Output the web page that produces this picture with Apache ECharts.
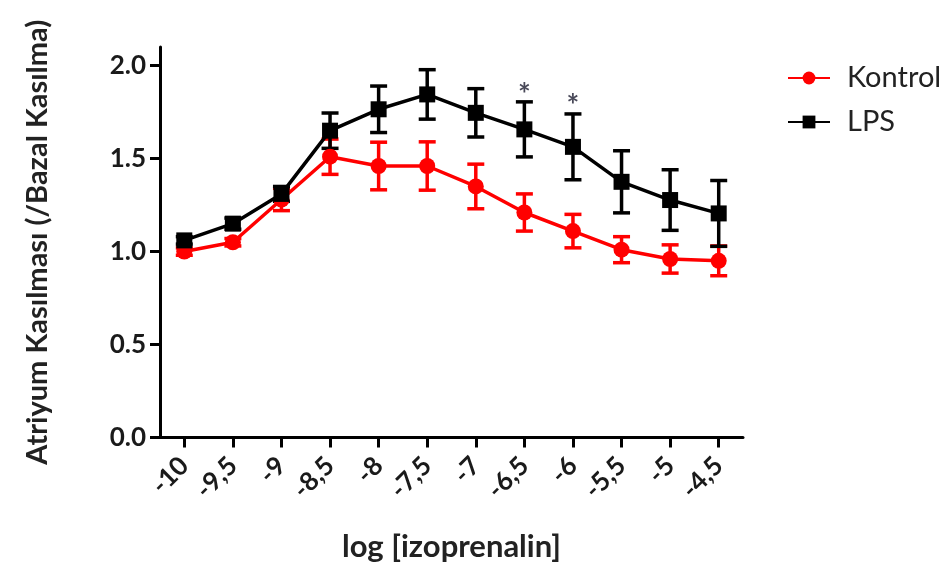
<!DOCTYPE html>
<html>
<head>
<meta charset="utf-8">
<script src="https://cdn.jsdelivr.net/npm/echarts@6/dist/echarts.min.js"></script>
<style>html,body{margin:0;padding:0;background:#fff}#c{width:951px;height:568px}</style>
</head>
<body>
<div id="c"></div>
<script>
const xValues = [-10, -9.5, -9, -8.5, -8, -7.5, -7, -6.5, -6, -5.5, -5, -4.5];
const kontrolMean = [1.00, 1.05, 1.28, 1.51, 1.46, 1.46, 1.35, 1.21, 1.11, 1.01, 0.96, 0.95];
const kontrolSem  = [0.02, 0.02, 0.06, 0.095, 0.128, 0.13, 0.12, 0.10, 0.09, 0.07, 0.076, 0.08];
const lpsMean = [1.06, 1.15, 1.31, 1.65, 1.765, 1.845, 1.746, 1.657, 1.563, 1.375, 1.277, 1.205];
const lpsSem  = [0.02, 0.03, 0.04, 0.095, 0.125, 0.133, 0.13, 0.148, 0.177, 0.167, 0.163, 0.177];
const starX = [-6.5, -6];
const starY = [1.84, 1.78];
const yTicks = [0, 0.5, 1.0, 1.5, 2.0];

const FONT = 'Lato';
const chart = echarts.init(document.getElementById('c'));

function pairs(xs, ys) { return xs.map((x, i) => [x, ys[i]]); }
function errData(xs, m, s) { return xs.map((x, i) => [x, m[i] - s[i], m[i] + s[i]]); }

function errRender(color) {
  return function (params, api) {
    const lo = api.coord([api.value(0), api.value(1)]);
    const hi = api.coord([api.value(0), api.value(2)]);
    const hw = 8.5;
    const style = { stroke: color, lineWidth: 3.5, fill: null };
    return {
      type: 'group',
      children: [
        { type: 'line', shape: { x1: lo[0], y1: lo[1], x2: hi[0], y2: hi[1] }, style },
        { type: 'line', shape: { x1: lo[0] - hw, y1: lo[1], x2: lo[0] + hw, y2: lo[1] }, style },
        { type: 'line', shape: { x1: hi[0] - hw, y1: hi[1], x2: hi[0] + hw, y2: hi[1] }, style }
      ]
    };
  };
}

const option = {
  animation: false,
  backgroundColor: '#fff',
  grid: { left: 160, right: 208, top: 47, bottom: 130.5, containLabel: false },
  legend: {
    left: 782, top: 57, orient: 'vertical', itemGap: 12, itemWidth: 42, itemHeight: 16,
    textStyle: { fontFamily: FONT, fontSize: 29, lineHeight: 32, color: '#222', padding: [0, 0, 0, 12] },
    data: ['Kontrol', 'LPS']
  },
  xAxis: {
    type: 'value', min: -10.25, max: -4.25,
    name: 'log [izoprenalin]', nameLocation: 'middle', nameGap: 94,
    nameTextStyle: { fontFamily: FONT, fontSize: 31, fontWeight: 'bold', color: '#222' },
    axisLine: { show: true, onZero: false, lineStyle: { color: '#000', width: 3 } },
    axisTick: { show: true, length: 10, lineStyle: { color: '#000', width: 3 }, customValues: xValues },
    axisLabel: {
      customValues: xValues, rotate: 45, margin: 24,
      fontFamily: FONT, fontSize: 26, fontWeight: 'bold', color: '#1a1a1a',
      formatter: v => String(v).replace('.', ',')
    },
    splitLine: { show: false }
  },
  yAxis: {
    type: 'value', min: 0, max: 2.1,
    name: 'Atriyum Kasılması (/Bazal Kasılma)', nameLocation: 'middle', nameGap: 108, nameRotate: 90,
    nameTextStyle: { fontFamily: FONT, fontSize: 29, fontWeight: 'bold', color: '#222' },
    axisLine: { show: true, lineStyle: { color: '#000', width: 3 } },
    axisTick: { show: true, length: 10, lineStyle: { color: '#000', width: 3 }, customValues: yTicks },
    axisLabel: {
      customValues: yTicks, margin: 14,
      fontFamily: FONT, fontSize: 26, fontWeight: 'bold', color: '#1a1a1a',
      formatter: v => v.toFixed(1)
    },
    splitLine: { show: false }
  },
  series: [
    {
      name: 'Kontrol', type: 'line', data: pairs(xValues, kontrolMean),
      symbol: 'circle', symbolSize: 16, z: 3,
      lineStyle: { color: '#ff0000', width: 3.5 }, itemStyle: { color: '#ff0000' }
    },
    {
      name: 'LPS', type: 'line', data: pairs(xValues, lpsMean),
      symbol: 'rect', symbolSize: 16, z: 4,
      lineStyle: { color: '#000', width: 3.5 }, itemStyle: { color: '#000' }
    },
    {
      type: 'custom', name: 'kErr', renderItem: errRender('#ff0000'),
      data: errData(xValues, kontrolMean, kontrolSem), z: 2, silent: true
    },
    {
      type: 'custom', name: 'lErr', renderItem: errRender('#000'),
      data: errData(xValues, lpsMean, lpsSem), z: 3, silent: true
    },
    {
      type: 'scatter', name: 'stars', data: pairs(starX, starY), symbolSize: 0, silent: true,
      label: { show: true, position: 'inside', formatter: '*', fontFamily: FONT, fontSize: 30, fontWeight: 'bold', color: '#1a1a2e' }
    }
  ]
};
chart.setOption(option);
</script>
</body>
</html>
